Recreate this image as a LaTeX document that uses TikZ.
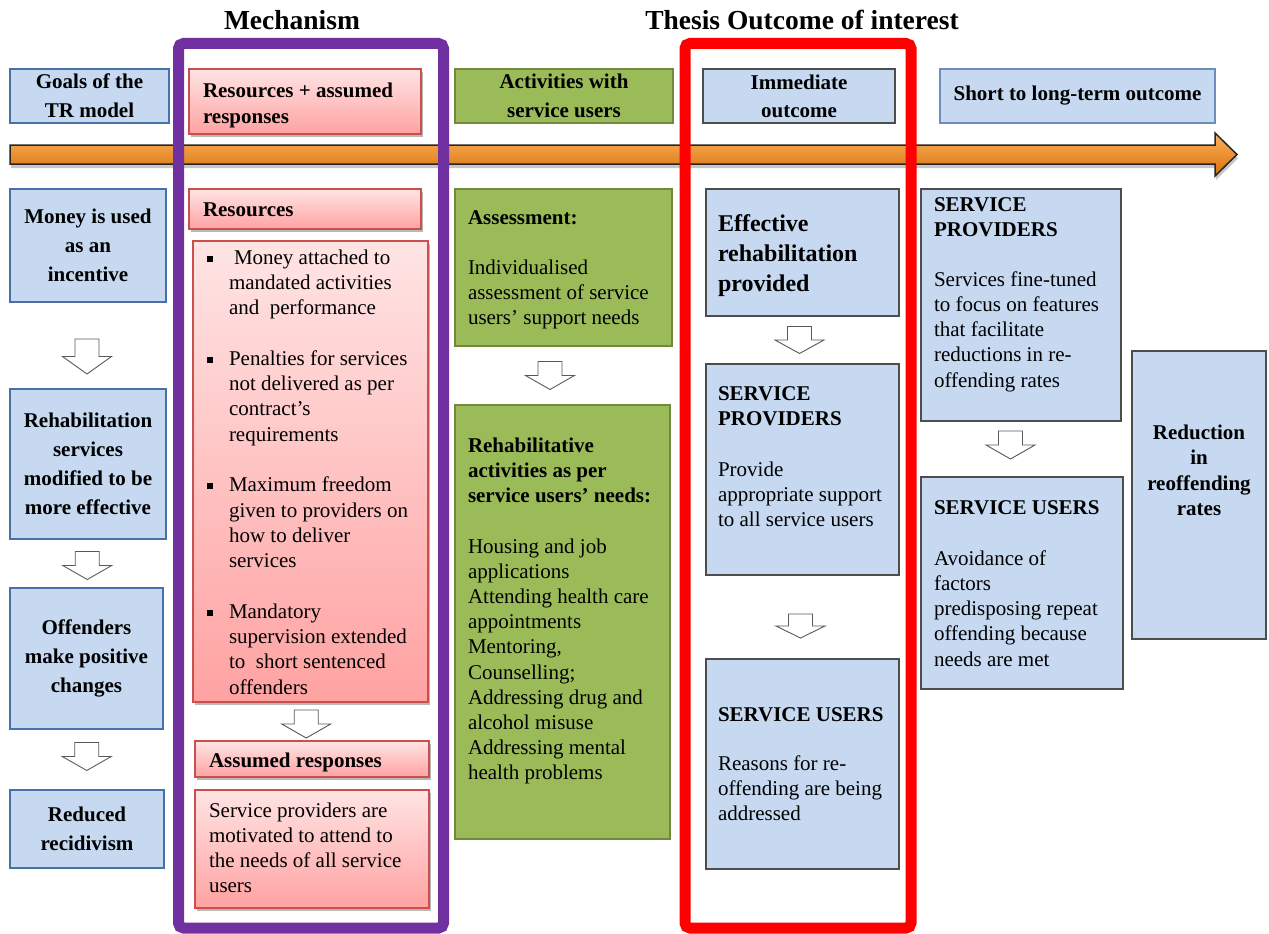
\documentclass[tikz,border=0pt]{standalone}
\usepackage{fontspec}
\setmainfont{Liberation Serif}
\usetikzlibrary{shadows,calc}

\definecolor{boxblue}{HTML}{C6D9F1}
\definecolor{blueedge}{HTML}{4A70A8}
\definecolor{greyedge}{HTML}{4D4D4D}
\definecolor{boxgreen}{HTML}{9BBB59}
\definecolor{greenedge}{HTML}{71893F}
\definecolor{pinktop}{HTML}{FFE4E4}
\definecolor{pinkbot}{HTML}{FFA2A2}
\definecolor{pinkedge}{HTML}{C9504D}
\definecolor{mechpurple}{HTML}{7030A0}
\definecolor{framered}{HTML}{FF0000}
\definecolor{orangetop}{HTML}{FBB25A}
\definecolor{orangemid}{HTML}{F7941E}
\definecolor{orangebot}{HTML}{D9700E}
\definecolor{arrowline}{HTML}{595959}

\newcommand\fs[2]{\fontsize{#1}{#2}\selectfont}
% fixed-height strut on the first line so every text block hangs from the same point
\newcommand\T{\rule{0pt}{16pt}}
\newcommand\TT{\rule{0pt}{18pt}}
\newcommand\sqbullet{\llap{\rule[2.5pt]{6pt}{6pt}\hspace{16pt}}}

\tikzset{
  hollow/.pic={
    \draw[draw=arrowline, fill=white, line width=0.9pt, line join=miter]
      (-12,-#1/2) -- (12,-#1/2) -- (12,0) -- (24.5,0) -- (0,#1/2)
      -- (-24.5,0) -- (-12,0) -- cycle;
  }
}

\begin{document}
\begin{tikzpicture}[x=1pt,y=-1pt,
  every node/.style={inner sep=0pt, outer sep=0pt},
  box/.style={rectangle, draw, line width=1.2pt, anchor=north west},
  bluebox/.style={box, fill=boxblue, draw=blueedge},
  greybox/.style={box, fill=boxblue, draw=greyedge},
  greenbox/.style={box, fill=boxgreen, draw=greenedge},
  pinkbox/.style={box, top color=pinktop, bottom color=pinkbot, draw=pinkedge,
    drop shadow={shadow xshift=1.5pt, shadow yshift=-3pt, fill=black, opacity=.28}},
  ctext/.style={align=center, font=\bfseries\fs{21}{29}},
  txt/.style={anchor=north west, yshift=16pt, align=left, font=\fs{21}{25.3}},
  btxt/.style={anchor=north west, yshift=16pt, align=left, font=\bfseries\fs{21}{25.3}},
  title/.style={font=\bfseries\fs{27.5}{32}},
]
\useasboundingbox (0,0) rectangle (1269,934);
\fill[white] (0,0) rectangle (1269,934);

% timeline arrow
\draw[line width=1.5pt, draw=black!85, line join=miter,
      top color=orangetop, middle color=orangemid, bottom color=orangebot,
      drop shadow={shadow xshift=1pt, shadow yshift=-4pt, fill=black, opacity=.22}]
  (10,145) -- (1215,145) -- (1215,133) -- (1237,154.5) -- (1215,176)
  -- (1215,164) -- (10,164) -- cycle;

% group frames
\draw[mechpurple, line width=11pt, rounded corners=5pt] (178.5,43.5) rectangle (443.5,928);
\draw[framered, line width=11pt, rounded corners=5pt] (685,43.5) rectangle (911,928);

% titles
\node[title] (tmech) at (292,20) {Mechanism};
\node[title] (tthesis) at (802,20) {Thesis Outcome of interest};

% header row
\node[bluebox, minimum width=159pt, minimum height=54pt, ctext] (hgoals) at (10,69) {Goals of the\\TR model};
\node[pinkbox, minimum width=232pt, minimum height=65pt] (hres) at (189,69) {};
\node[greenbox, minimum width=218pt, minimum height=54pt, ctext] (hact) at (455,69) {Activities with\\service users};
\node[greybox, minimum width=192pt, minimum height=54pt, ctext, font=\bfseries\fs{21}{28}] (himm) at (703,69) {Immediate\\outcome};
\node[bluebox, minimum width=275pt, minimum height=54pt, ctext, draw=blueedge!80] (hshort) at (940,69) {Short to long-term outcome};
\node[btxt, font=\bfseries\fs{21}{26}] (hrestxt) at (203,97) {\T Resources + assumed\\responses};

% goals column
\node[bluebox, minimum width=156pt, minimum height=113pt, ctext] (g1) at (10,189) {Money is used\\as an\\incentive};
\node[bluebox, minimum width=156pt, minimum height=150pt, ctext] (g2) at (10,389) {Rehabilitation\\services\\modified to be\\more effective};
\node[bluebox, minimum width=153pt, minimum height=141pt, ctext] (g3) at (10,588) {Offenders\\make positive\\changes};
\node[bluebox, minimum width=154pt, minimum height=78pt, ctext] (g4) at (10,790) {Reduced\\recidivism};

% mechanism column
\node[pinkbox, minimum width=232pt, minimum height=40pt] (mres) at (189,189) {};
\node[btxt] (mrestxt) at (203,216) {\T Resources};
\node[pinkbox, minimum width=235pt, minimum height=461pt] (mlist) at (193,241) {};
\node[txt] (mlisttxt) at (229,264) {%
  \T\sqbullet\hspace{5pt}Money attached to\\
  mandated activities\\
  and\ \ performance\\
  \mbox{}\\
  \sqbullet Penalties for services\\
  not delivered as per\\
  contract’s\\
  requirements\\
  \mbox{}\\
  \sqbullet Maximum freedom\\
  given to providers on\\
  how to deliver\\
  services\\
  \mbox{}\\
  \sqbullet Mandatory\\
  supervision extended\\
  to\ \ short sentenced\\
  offenders};
\node[pinkbox, minimum width=234pt, minimum height=36pt] (mass) at (195,741) {};
\node[btxt] (masstxt) at (209,767) {\T Assumed responses};
\node[pinkbox, minimum width=234pt, minimum height=118pt] (msp) at (195,790) {};
\node[txt] (msptxt) at (209,817) {\T Service providers are\\motivated to attend to\\the needs of all service\\users};

% activities column
\node[greenbox, minimum width=217pt, minimum height=157pt] (a1) at (455,189) {};
\node[btxt] (a1head) at (468,224) {\T Assessment:};
\node[txt] (a1txt) at (468,274) {\T Individualised\\assessment of service\\users’ support needs};
\node[greenbox, minimum width=215pt, minimum height=434pt] (a2) at (455,405) {};
\node[btxt] (a2head) at (468,452) {\T Rehabilitative\\activities as per\\service users’ needs:};
\node[txt, font=\fs{21}{25.2}] (a2txt) at (468,553) {\T Housing and job\\applications\\Attending health care\\appointments\\Mentoring,\\Counselling;\\Addressing drug and\\alcohol misuse\\Addressing mental\\health problems};

% immediate outcome column
\node[greybox, minimum width=193pt, minimum height=127pt] (i1) at (706,189) {};
\node[btxt, yshift=2pt, font=\bfseries\fs{24}{30}] (i1txt) at (718,231) {\TT Effective\\rehabilitation\\provided};
\node[greybox, minimum width=193pt, minimum height=211pt] (i2) at (706,364) {};
\node[btxt, font=\bfseries\fs{21}{25}] (i2head) at (718,400) {\T SERVICE\\PROVIDERS};
\node[txt] (i2txt) at (718,476) {\T Provide\\appropriate support\\to all service users};
\node[greybox, minimum width=193pt, minimum height=210pt] (i3) at (706,659) {};
\node[btxt] (i3head) at (718,721) {\T SERVICE USERS};
\node[txt] (i3txt) at (718,770) {\T Reasons for re-\\offending are being\\addressed};

% short to long-term column
\node[greybox, minimum width=200pt, minimum height=232pt] (s1) at (921,189) {};
\node[btxt, font=\bfseries\fs{21}{25}] (s1head) at (934,211) {\T SERVICE\\PROVIDERS};
\node[txt] (s1txt) at (934,286) {\T Services fine-tuned\\to focus on features\\that facilitate\\reductions in re-\\offending rates};
\node[greybox, minimum width=202pt, minimum height=212pt] (s2) at (921,477) {};
\node[btxt] (s2head) at (934,514) {\T SERVICE USERS};
\node[txt] (s2txt) at (934,565) {\T Avoidance of\\factors\\predisposing repeat\\offending because\\needs are met};
\node[greybox, minimum width=134pt, minimum height=288pt] (s3) at (1132,351) {};
\node[anchor=north, yshift=16pt, align=center, font=\bfseries\fs{21}{25.6}] (s3txt) at (1199,439) {\T Reduction\\in\\reoffending\\rates};

% flow arrows between boxes
\path (g1.south) -- (g2.north) coordinate[pos=.5] (c12);
\path (g2.south) -- (g3.north) coordinate[pos=.5] (c23);
\path (g3.south) -- (g4.north) coordinate[pos=.5] (c34);
\path (mlist.south) -- (mass.north) coordinate[pos=.5] (cm);
\path (a1.south) -- (a2.north) coordinate[pos=.5] (ca);
\path (i1.south) -- (i2.north) coordinate[pos=.5] (ci12);
\path (i2.south) -- (i3.north) coordinate[pos=.5] (ci23);
\path (s1.south) -- (s2.north) coordinate[pos=.5] (cs);

\pic at ($(c12)+(-1,11)$) {hollow=35};
\pic at ($(c23)+(0,2)$) {hollow=28};
\pic at ($(c34)+(0,-3)$) {hollow=28};
\pic at ($(cm)+(-5,2.5)$) {hollow=28};
\pic at ($(ca)+(-13,0)$) {hollow=28};
\pic at ($(ci12)+(-3,0)$) {hollow=27};
\pic at ($(ci23)+(-2,9)$) {hollow=24};
\pic at ($(cs)+(-11,-4)$) {hollow=28};
\end{tikzpicture}
\end{document}
